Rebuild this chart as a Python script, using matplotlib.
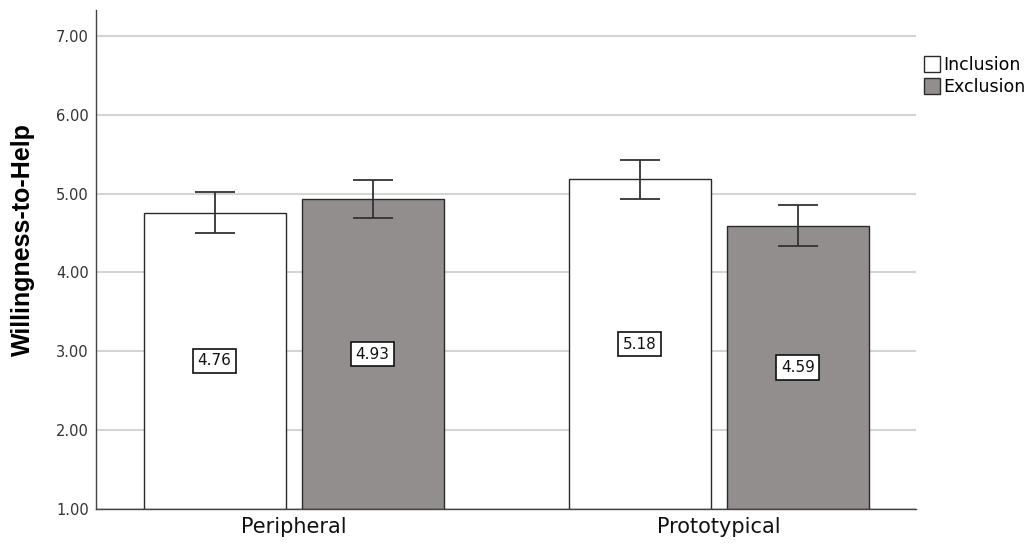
import matplotlib.pyplot as plt
import numpy as np
from matplotlib.patches import Patch

# data
groups = ['Peripheral', 'Prototypical']
conditions = ['Inclusion', 'Exclusion']
means = {'Inclusion': [4.76, 5.18], 'Exclusion': [4.93, 4.59]}
errs = {'Inclusion': [0.26, 0.25], 'Exclusion': [0.24, 0.26]}
yticks = [1, 2, 3, 4, 5, 6, 7]

colors = {'Inclusion': '#ffffff', 'Exclusion': '#928e8e'}
edge = '#2a2a2a'

fig = plt.figure(figsize=(10.34, 5.46), dpi=100)
ax = fig.add_axes([0.0928, 0.0678, 0.7934, 0.914])

x = np.arange(len(groups))
w = 0.334
gap = 0.038
offsets = {'Inclusion': -(w + gap) / 2, 'Exclusion': (w + gap) / 2}
base = 1.0

for c in conditions:
    m = np.array(means[c])
    pos = x + offsets[c]
    ax.bar(pos, m - base, w, bottom=base, color=colors[c], edgecolor=edge,
           linewidth=1.0, zorder=2)
    ax.errorbar(pos, m, yerr=errs[c], fmt='none', ecolor='#333333',
                elinewidth=1.3, capsize=14.5, capthick=1.3, zorder=3)
    for xp, v in zip(pos, m):
        ax.text(xp, (v + base) / 2, '%.2f' % v, ha='center', va='center',
                fontsize=11, color='#111111', zorder=4,
                bbox=dict(boxstyle='square,pad=0.3', fc='white', ec='#111111', lw=1.2))

ax.set_xlim(-0.465, 1.465)
ax.set_ylim(1, 7.33)
ax.set_yticks(yticks)
ax.set_yticklabels(['%.2f' % t for t in yticks], fontsize=10.5, color='#333333')
ax.set_xticks(x)
ax.set_xticklabels(groups, fontsize=15, color='#111111')
ax.tick_params(axis='y', length=0, pad=5)
ax.tick_params(axis='x', length=0, pad=6)
ax.yaxis.grid(True, color='#d4d4d4', linewidth=1.5, zorder=0)
ax.set_axisbelow(True)
for s in ['top', 'right']:
    ax.spines[s].set_visible(False)
for s in ['left', 'bottom']:
    ax.spines[s].set_color('#444444')
    ax.spines[s].set_linewidth(1.0)

ax.set_ylabel('Willingness-to-Help', fontsize=18, fontweight='bold',
              family='Liberation Sans')
ax.yaxis.set_label_coords(-0.074, 0.54)

handles = [Patch(facecolor=colors[c], edgecolor=edge, label=c) for c in conditions]
fig.legend(handles=handles, loc='upper left', bbox_to_anchor=(0.882, 0.92),
           frameon=False, fontsize=12.5, handlelength=0.9, handleheight=1.0,
           handletextpad=0.2, labelspacing=0.25, borderpad=0.2)

fig.savefig('out.png', dpi=100)
